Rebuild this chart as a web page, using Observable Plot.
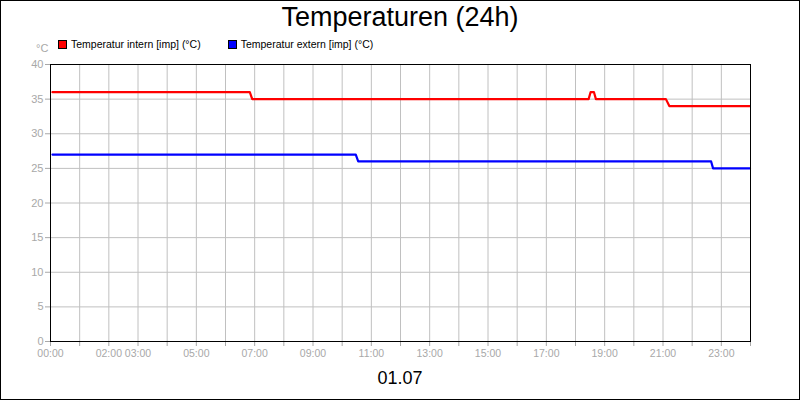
<!DOCTYPE html>
<html><head><meta charset="utf-8">
<script src="https://cdn.jsdelivr.net/npm/d3@7"></script>
<script src="https://cdn.jsdelivr.net/npm/@observablehq/plot@0.6"></script>
<style>
body{margin:0;background:#fff;}
#wrap{position:relative;width:800px;height:400px;font-family:"Liberation Sans",Arial,sans-serif;overflow:hidden;background:#fff}
#border{position:absolute;left:0;top:0;width:800px;height:400px;box-sizing:border-box;border:1px solid #000;pointer-events:none}
.t{position:absolute;white-space:nowrap;line-height:1}
.sw{display:inline-block;width:7px;height:7px;border:1px solid #000;vertical-align:middle;margin-right:4px;position:relative;top:-1px}
</style></head><body>
<div id="wrap">
  <div id="chart" style="position:absolute;left:0;top:0"></div>
  <div class="t" style="left:0;width:800px;text-align:center;top:4px;font-size:27px;color:#000">Temperaturen (24h)</div>
  <div class="t" style="left:0;width:800px;text-align:center;top:369px;font-size:18px;color:#000">01.07</div>
  <div class="t" style="left:36px;top:43px;font-size:11px;color:#a8a8a8">°C</div>
  <div class="t" id="legend" style="left:58px;top:39px;font-size:10.5px;color:#000"></div>
  <div id="border"></div>
</div>
<script>
// Series data (time of day "HH:MM", value in °C)
const seriesNames = ["Temperatur intern [imp] (°C)", "Temperatur extern [imp] (°C)"];
const seriesColors = ["#ff0000", "#0000ff"];
const internTimes = ["00:04","06:50","06:55","18:27","18:31","18:38","18:42","21:06","21:13","23:59"];
const internValues = [36,36,35,35,36,36,35,35,34,34];
const externTimes = ["00:04","10:28","10:33","22:39","22:43","23:59"];
const externValues = [27,27,26,26,25,25];
const xTickHours = [0,1,2,3,4,5,6,7,8,9,10,11,12,13,14,15,16,17,18,19,20,21,22,23,24];
const xLabelHours = [0,2,3,5,7,9,11,13,15,17,19,21,23];
const yTicks = [0,5,10,15,20,25,30,35,40];

const toH = s => { const [h,m] = s.split(":").map(Number); return h + m/60; };
const intern = internTimes.map((t,i) => ({h: toH(t), v: internValues[i]}));
const extern = externTimes.map((t,i) => ({h: toH(t), v: externValues[i]}));
const pad = n => String(n).padStart(2,"0");
const gray = "#a8a8a8";

const chart = Plot.plot({
  width: 800, height: 400,
  marginLeft: 50, marginRight: 50, marginTop: 64, marginBottom: 59,
  style: {fontFamily: "'Liberation Sans', Arial, sans-serif", fontSize: "10.5px", background: "transparent"},
  x: {type: "linear", domain: [0, 24], label: null},
  y: {type: "linear", domain: [0, 40], label: null},
  marks: [
    Plot.gridX(xTickHours, {stroke: "#c0c0c0", strokeOpacity: 1}),
    Plot.gridY(yTicks, {stroke: "#c0c0c0", strokeOpacity: 1}),
    Plot.axisX(xTickHours, {tickSize: 5, tickPadding: 3, stroke: gray, fill: gray, label: null,
      tickFormat: h => xLabelHours.includes(h) ? pad(h) + ":00" : ""}),
    Plot.axisY(yTicks, {tickSize: 5, tickPadding: 2, stroke: gray, fill: gray, label: null, fontSize: 11, tickFormat: d => String(d)}),
    Plot.line(intern, {x: "h", y: "v", stroke: seriesColors[0], strokeWidth: 2.2}),
    Plot.line(extern, {x: "h", y: "v", stroke: seriesColors[1], strokeWidth: 2.2}),
    Plot.frame({stroke: "#000", strokeWidth: 1})
  ]
});
document.getElementById("chart").appendChild(chart);

const legend = document.getElementById("legend");
seriesNames.forEach((n,i) => {
  const s = document.createElement("span");
  s.style.marginRight = i === 0 ? "27px" : "0";
  s.innerHTML = `<span class="sw" style="background:${seriesColors[i]}"></span>${n}`;
  legend.appendChild(s);
});
</script>
</body></html>
